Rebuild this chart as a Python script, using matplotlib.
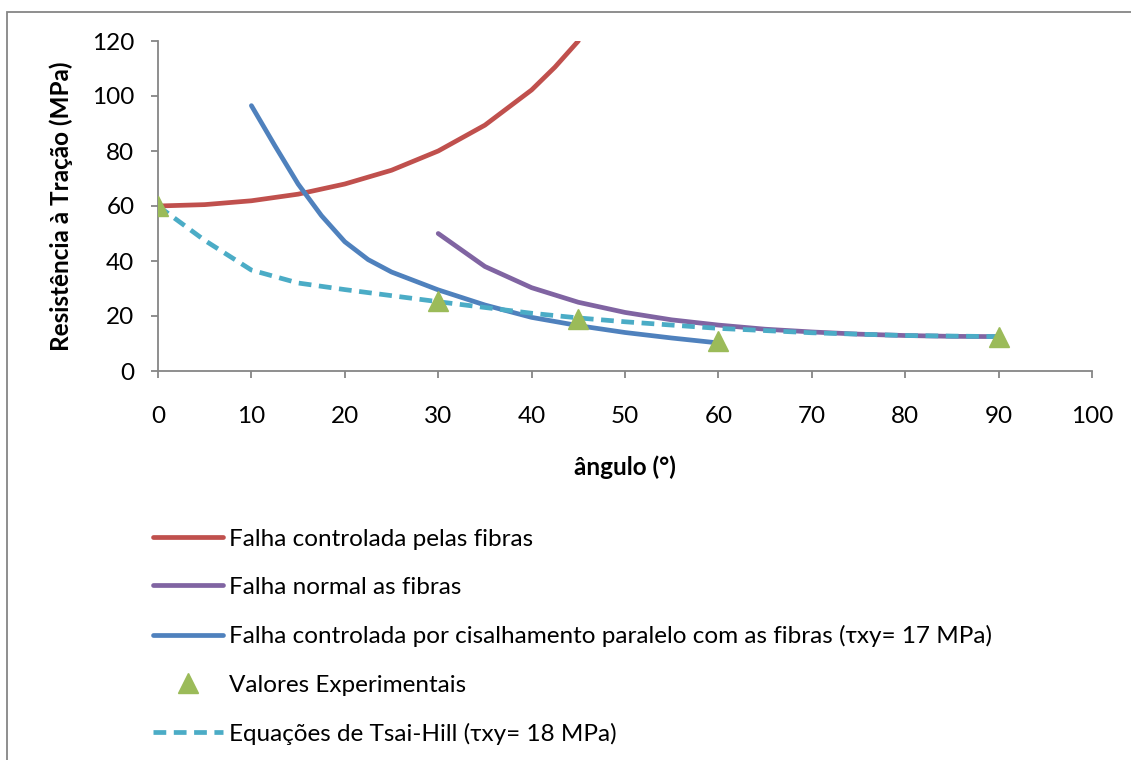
import matplotlib.pyplot as plt
from matplotlib.patches import Rectangle

plt.rcParams['font.family'] = ['Lato', 'DejaVu Sans']

# dados
ang_fibras = [0, 5, 10, 15, 20, 25, 30, 35, 40, 42.5, 45]
res_fibras = [60, 60.5, 61.9, 64.3, 68, 73, 80, 89.4, 102.2, 110.5, 120]

ang_normal = [30, 35, 40, 45, 50, 55, 60, 65, 70, 75, 80, 85, 90]
res_normal = [50, 38, 30.3, 25, 21.3, 18.6, 16.7, 15.2, 14.2, 13.4, 12.9, 12.6, 12.5]

ang_cisalh = [10, 12.5, 15, 17.5, 20, 22.5, 25, 30, 35, 40, 45, 50, 55, 60]
res_cisalh = [96.5, 82, 68, 56.5, 47, 40.5, 36, 29.5, 24, 19.5, 16.5, 14, 12, 10.2]

ang_exp = [0, 30, 45, 60, 90]
res_exp = [60, 25.5, 19, 11, 12.5]

ang_tsai = [0, 5, 10, 15, 20, 30, 40, 45, 50, 60, 70, 80, 90]
res_tsai = [60, 47.5, 36.7, 32, 29.6, 25.2, 21, 19.3, 17.9, 15.5, 13.9, 12.9, 12.5]

fig = plt.figure(figsize=(11.31, 7.6), dpi=100)
ax = fig.add_axes([158/1131, 1 - 371/760, (1092 - 158)/1131, (371 - 41)/760])

lw = 3.4
ax.plot(ang_fibras, res_fibras, color='#C0504D', lw=lw, solid_capstyle='round',
        label='Falha controlada pelas fibras')
ax.plot(ang_normal, res_normal, color='#8064A2', lw=lw, solid_capstyle='round',
        label='Falha normal as fibras')
ax.plot(ang_cisalh, res_cisalh, color='#4F81BD', lw=lw, solid_capstyle='round',
        label='Falha controlada por cisalhamento paralelo com as fibras (τxy= 17 MPa)')
ax.plot(ang_exp, res_exp, ls='none', marker='^', ms=15, color='#9BBB59',
        label='Valores Experimentais', zorder=5)
ax.plot(ang_tsai, res_tsai, color='#4BACC6', lw=lw, ls=(0, (2.7, 1.6)),
        label='Equações de Tsai-Hill (τxy= 18 MPa)', zorder=4)

ax.set_xlim(0, 100)
ax.set_ylim(0, 120)
ax.set_xticks(range(0, 101, 10))
ax.set_yticks(range(0, 121, 20))
for s in ['top', 'right']:
    ax.spines[s].set_visible(False)
for s in ['left', 'bottom']:
    ax.spines[s].set_color('#868686')
    ax.spines[s].set_linewidth(1.3)
ax.tick_params(direction='out', length=5, width=1.3, color='#868686',
               labelsize=17.5)
ax.tick_params(axis='x', pad=20)
ax.tick_params(axis='y', pad=12)

ax.set_xlabel('ângulo (°)', fontsize=17.5, fontweight='bold', labelpad=21)
ax.set_ylabel('Resistência à Tração (MPa)', fontsize=17.5, fontweight='bold', labelpad=14)

fig.legend(loc='upper left', bbox_to_anchor=(143/1131, 1 - 519/760), frameon=False,
           fontsize=17.5, handlelength=2.9, handletextpad=0.25, labelspacing=1.12,
           borderaxespad=0)

# moldura do gráfico
fig.patches.append(Rectangle((7/1131, -0.1), 1.2, 1 - 12/760 + 0.1,
                             transform=fig.transFigure, fill=False,
                             edgecolor='#868686', lw=1.3))

fig.savefig('out.png', dpi=100)
